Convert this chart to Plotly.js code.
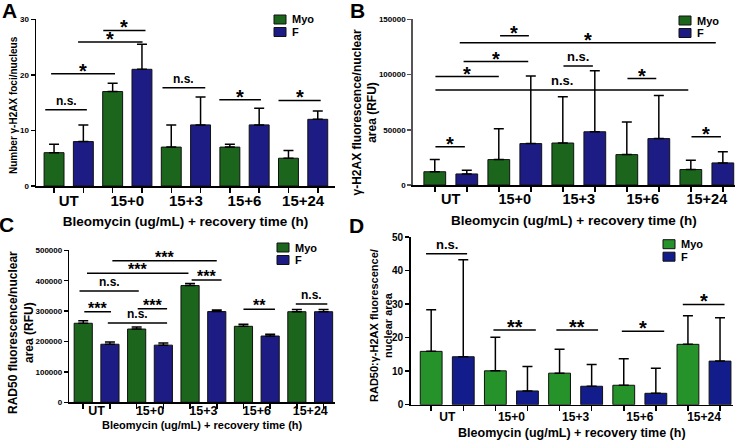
<!DOCTYPE html>
<html><head><meta charset="utf-8">
<script src="https://cdn.plot.ly/plotly-3.0.1.min.js"></script>
<style>html,body{margin:0;padding:0;background:#fff}#chart{width:746px;height:442px}</style>
</head><body><div id="chart"></div>
<script>
// ---------- data ----------
const categories = ['UT', '15+0', '15+3', '15+6', '15+24'];
const seriesNames = ['Myo', 'F'];
const xTitle = 'Bleomycin (ug/mL) + recovery time (h)';

// Panel A: number of gamma-H2AX foci per nucleus
const aMyo = [6, 17, 7, 7, 5];
const aMyoErr = [1.5, 1.5, 4, 0.5, 1.4];
const aF = [8, 21, 11, 11, 12];
const aFErr = [3, 4.5, 5, 3, 1.5];

// Panel B: gamma-H2AX fluorescence / nuclear area (RFU)
const bMyo = [12000, 23000, 38000, 27500, 14000];
const bMyoErr = [11000, 28000, 42000, 29500, 8500];
const bF = [10000, 37500, 48200, 42000, 20000];
const bFErr = [3300, 61100, 55200, 39100, 10200];

// Panel C: RAD50 fluorescence / nuclear area (RFU)
const cMyo = [260000, 241000, 384000, 250000, 298000];
const cMyoErr = [8000, 6500, 6500, 6500, 7500];
const cF = [191000, 188000, 298500, 218000, 298000];
const cFErr = [7500, 7000, 5500, 6000, 7500];

// Panel D: RAD50 : gamma-H2AX fluorescence / nuclear area
const dMyo = [15.9, 10.1, 9.4, 5.8, 18.0];
const dMyoErr = [12.4, 10.0, 7.1, 7.9, 8.5];
const dF = [14.3, 4.1, 5.5, 3.4, 13.0];
const dFErr = [28.9, 7.3, 6.5, 7.5, 12.9];

// significance brackets: [from, to, level, label]
const sigA = [[-0.40, 0.31, 13.7, 'n.s.'], [-0.30, 0.79, 20.2, '*'], [0.16, 1.26, 25.9, '*'], [0.59, 1.31, 28.0, '*'],
              [1.60, 2.33, 17.7, 'n.s.'], [2.57, 3.28, 15.5, '*'], [3.58, 4.30, 15.4, '*']];
const sigB = [[-0.24, 0.22, 34700, '*'], [-0.24, 0.75, 98200, '*'], [0.20, 1.21, 111700, '*'], [0.77, 1.22, 135000, '*'],
              [0.14, 4.14, 128700, '*'], [1.76, 2.22, 107800, 'n.s.'], [-0.24, 3.71, 85900, 'n.s.'],
              [2.76, 3.21, 96400, '*'], [3.76, 4.22, 43700, '*']];
const sigC = [[0.295, 2.25, 466000, '***'], [-0.18, 1.72, 424300, '***'], [-0.32, 0.79, 366200, 'n.s.'],
              [-0.23, 0.27, 298200, '***'], [0.77, 1.32, 308100, '***'], [0.21, 1.32, 261000, 'n.s.'],
              [1.78, 2.34, 402400, '***'], [2.75, 3.34, 305900, '**'], [3.73, 4.32, 323500, 'n.s.']];
const sigD = [[-0.33, 0.31, 45.0, 'n.s.'], [0.72, 1.38, 22.3, '**'], [1.70, 2.35, 22.3, '**'],
              [2.72, 3.38, 21.9, '*'], [3.67, 4.32, 29.9, '*']];

// ---------- styling / layout ----------
const W = 746, H = 442;
const FONT = 'Liberation Sans, Arial, sans-serif';
const PX = v => v / W, PY = v => 1 - v / H;

const panels = [
  { id: '', letter: 'A', series: [[aMyo, aMyoErr], [aF, aFErr]], sig: sigA,
    dom: [36, 335, 19.3, 186], xr: [-0.558, 4.544], yr: [0, 30], dtick: 10,
    ytitle: 'Number γ-H2AX foci/nucleus', ytf: 10, ytPos: [13, 105], ytick: 8,
    xtf: 15, xlstand: 0, xtitle: 13.5, xstand: 9, starF: 20, nsF: 12, axcol: '#000',
    colors: ['#1b661c', '#1c1c84'], letterPos: [9, 10], leg: [274, 15] },
  { id: '2', letter: 'B', series: [[bMyo, bMyoErr], [bF, bFErr]], sig: sigB,
    dom: [412.7, 735, 19.3, 185], xr: [-0.595, 4.44], yr: [0, 150000], dtick: 50000,
    ytitle: 'γ-H2AX fluorescence/nuclear<br>area (RFU)', ytf: 12, ytPos: [364.5, 113], ytick: 8,
    xtf: 14.5, xlstand: 0, xtitle: 13.5, xstand: 9, starF: 20, nsF: 13, axcol: '#555',
    colors: ['#1b661c', '#1c1c84'], letterPos: [357, 10.5], leg: [679, 16] },
  { id: '3', letter: 'C', series: [[cMyo, cMyoErr], [cF, cFErr]], sig: sigC,
    dom: [69.3, 335, 250.3, 402.3], xr: [-0.511, 4.464], yr: [0, 500000], dtick: 100000,
    ytitle: 'RAD50 fluorescence/nuclear<br>area (RFU)', ytf: 12, ytPos: [21, 333], ytick: 8,
    xtf: 12.5, xlstand: -4, xtitle: 11, xTitleAt: 424.5, starF: 16, nsF: 12, axcol: '#000',
    colors: ['#1b661c', '#1c1c84'], letterPos: [6, 224], leg: [277, 243] },
  { id: '4', letter: 'D', series: [[dMyo, dMyoErr], [dF, dFErr]], sig: sigD,
    dom: [410.7, 733, 237, 404.7], xr: [-0.569, 4.452], yr: [0, 50], dtick: 10,
    ytitle: 'RAD50:γ-H2AX fluorescence/<br>nuclear area', ytf: 11, ytPos: [381, 326], ytick: 10,
    xtf: 12, xlstand: 0, xtitle: 12.5, xstand: 5, starF: 20, nsF: 13, axcol: '#000',
    colors: ['#25922a', '#121c8a'], letterPos: [356, 225], leg: [663, 239.7] }
];

const traces = [];
const layout = {
  width: W, height: H, margin: { l: 0, r: 0, t: 0, b: 0 },
  paper_bgcolor: '#fff', plot_bgcolor: '#fff',
  font: { family: FONT, color: '#000', weight: 'bold' },
  barmode: 'group', bargap: 0, bargroupgap: 0.32, showlegend: false,
  shapes: [], annotations: []
};

const idx = categories.map((c, i) => i);

panels.forEach(p => {
  const xa = 'x' + p.id, ya = 'y' + p.id;
  p.series.forEach((s, k) => {
    traces.push({
      type: 'bar', name: seriesNames[k], x: idx, y: s[0], xaxis: xa, yaxis: ya,
      marker: { color: p.colors[k], line: { color: '#111', width: 1 } },
      error_y: { type: 'data', symmetric: false, array: s[1], arrayminus: s[1].map(() => 0),
                 color: '#000', thickness: 1.5, width: 5 },
      hoverinfo: 'none'
    });
  });
  const barCenters = [];
  idx.forEach(i => { barCenters.push(i - 0.25, i + 0.25); });
  const xaxis = {
    domain: [PX(p.dom[0]), PX(p.dom[1])], anchor: ya, range: p.xr, fixedrange: true,
    showgrid: false, zeroline: false, showline: true, linecolor: '#000', linewidth: 1.5,
    tickmode: 'array', tickvals: idx, ticktext: categories, ticks: '', ticklabelstandoff: p.xlstand,
    tickfont: { family: FONT, size: p.xtf, weight: 'bold' },
    minor: { tickmode: 'array', tickvals: barCenters, ticks: 'outside', ticklen: 5, tickwidth: 1.5, tickcolor: '#000', showgrid: false }
  };
  if (p.xTitleAt) {
    // this panel's title sits tighter to its tick labels than an axis title can
    layout.annotations.push({ xref: 'paper', yref: 'paper', x: PX((p.dom[0] + p.dom[1]) / 2), y: PY(p.xTitleAt),
      text: xTitle, showarrow: false, xanchor: 'center', yanchor: 'middle',
      font: { family: FONT, size: p.xtitle, weight: 'bold', color: '#000' } });
  } else {
    xaxis.title = { text: xTitle, font: { family: FONT, size: p.xtitle, weight: 'bold' }, standoff: p.xstand };
  }
  layout['xaxis' + p.id] = xaxis;
  layout['yaxis' + p.id] = {
    domain: [PY(p.dom[3]), PY(p.dom[2])], anchor: xa, range: p.yr, fixedrange: true,
    showgrid: false, zeroline: false, showline: true, linecolor: p.axcol, linewidth: 1.5,
    tickmode: 'linear', tick0: 0, dtick: p.dtick, tickformat: 'd',
    ticks: 'outside', ticklen: 4, tickwidth: 1.5, tickcolor: p.axcol,
    tickfont: { family: FONT, size: p.ytick, weight: 'bold' }
  };
  // y-axis title, rotated
  layout.annotations.push({ xref: 'paper', yref: 'paper', x: PX(p.ytPos[0]), y: PY(p.ytPos[1]),
    text: p.ytitle, textangle: -90, showarrow: false, xanchor: 'center', yanchor: 'middle',
    font: { family: FONT, size: p.ytf, weight: 'bold', color: '#000' } });
  // significance brackets
  p.sig.forEach(s => {
    layout.shapes.push({ type: 'line', xref: xa, yref: ya, x0: s[0], x1: s[1], y0: s[2], y1: s[2],
                         line: { color: '#000', width: 1.5 } });
    const star = s[3].indexOf('*') >= 0;
    const ann = { xref: xa, yref: ya, x: (s[0] + s[1]) / 2, y: s[2], text: s[3],
      showarrow: false, xanchor: 'center', yanchor: 'bottom',
      font: { family: FONT, size: star ? p.starF : p.nsF, weight: 'bold', color: '#000' } };
    if (star) { ann.height = Math.round(p.starF * 0.6); ann.valign = 'top'; }
    else { ann.height = Math.round(p.nsF * 0.85); ann.valign = 'bottom'; }
    layout.annotations.push(ann);
  });
  // panel legend
  seriesNames.forEach((n, k) => {
    const top = p.leg[1] + k * 12.5;
    layout.shapes.push({ type: 'rect', xref: 'paper', yref: 'paper',
      x0: PX(p.leg[0]), x1: PX(p.leg[0] + 12), y0: PY(top + 9), y1: PY(top),
      fillcolor: p.colors[k], line: { color: '#111', width: 1 } });
    layout.annotations.push({ xref: 'paper', yref: 'paper', x: PX(p.leg[0] + 16), y: PY(top + 4.5),
      text: n, showarrow: false, xanchor: 'left', yanchor: 'middle',
      font: { family: FONT, size: 11, weight: 'bold', color: '#000' } });
  });
  // panel letter
  layout.annotations.push({ xref: 'paper', yref: 'paper', x: PX(p.letterPos[0]), y: PY(p.letterPos[1]),
    text: p.letter, showarrow: false, xanchor: 'center', yanchor: 'middle',
    font: { family: FONT, size: 21, weight: 'bold', color: '#000' } });
});

Plotly.newPlot('chart', traces, layout, { staticPlot: true, displayModeBar: false });
</script>
</body></html>
